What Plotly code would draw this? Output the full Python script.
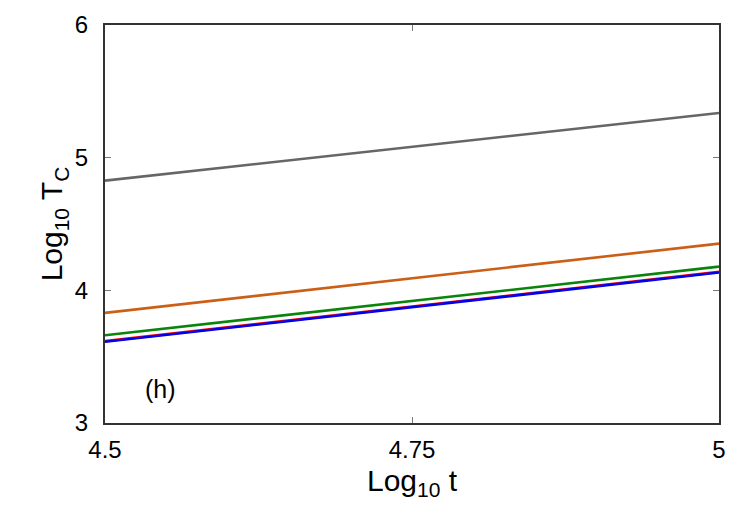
import plotly.graph_objects as go

log_t = [4.5, 5.0]
gray_vals = [4.827, 5.337]
orange_vals = [3.830, 4.352]
green_vals = [3.661, 4.179]
red_vals = [3.617, 4.139]
blue_vals = [3.612, 4.134]

x_ticks = [4.5, 4.75, 5]
x_tick_text = ["4.5", "4.75", "5"]
y_ticks = [3, 4, 5, 6]
y_tick_text = ["3", "4", "5", "6"]

FONT = "Liberation Sans, Arial, sans-serif"

fig = go.Figure()
series = [
    ("gray", gray_vals, "#666666"),
    ("orange", orange_vals, "#cc5f17"),
    ("green", green_vals, "#0a840a"),
    ("red", red_vals, "#ff0000"),
    ("blue", blue_vals, "#0000ee"),
]
for name, vals, col in series:
    fig.add_trace(go.Scatter(x=log_t, y=vals, mode="lines", name=name,
                             line=dict(color=col, width=2.6), showlegend=False))

fig.add_annotation(x=4.545, y=3.257, text="(h)", showarrow=False,
                   font=dict(size=25, color="black", family=FONT))

axis_common = dict(showline=True, linecolor="#333333", linewidth=2, mirror="ticks",
                   ticks="inside", ticklen=6, tickcolor="#777777", tickwidth=1,
                   showgrid=False, zeroline=False,
                   tickfont=dict(size=24, color="black", family=FONT))

fig.update_layout(
    width=750, height=525,
    margin=dict(l=105, r=31, t=25, b=102),
    paper_bgcolor="white", plot_bgcolor="white",
    xaxis=dict(range=[4.5, 5], tickvals=x_ticks, ticktext=x_tick_text,
               ticklabelstandoff=4,
               title=dict(text="Log<sub>10</sub> t", font=dict(size=30, color="black", family=FONT), standoff=8),
               **axis_common),
    yaxis=dict(range=[3, 6], tickvals=y_ticks, ticktext=y_tick_text,
               ticklabelstandoff=10,
               title=dict(text="Log<sub>10</sub> T<sub>C</sub>", font=dict(size=30, color="black", family=FONT), standoff=3),
               **axis_common),
)

fig.write_html("out.html")
